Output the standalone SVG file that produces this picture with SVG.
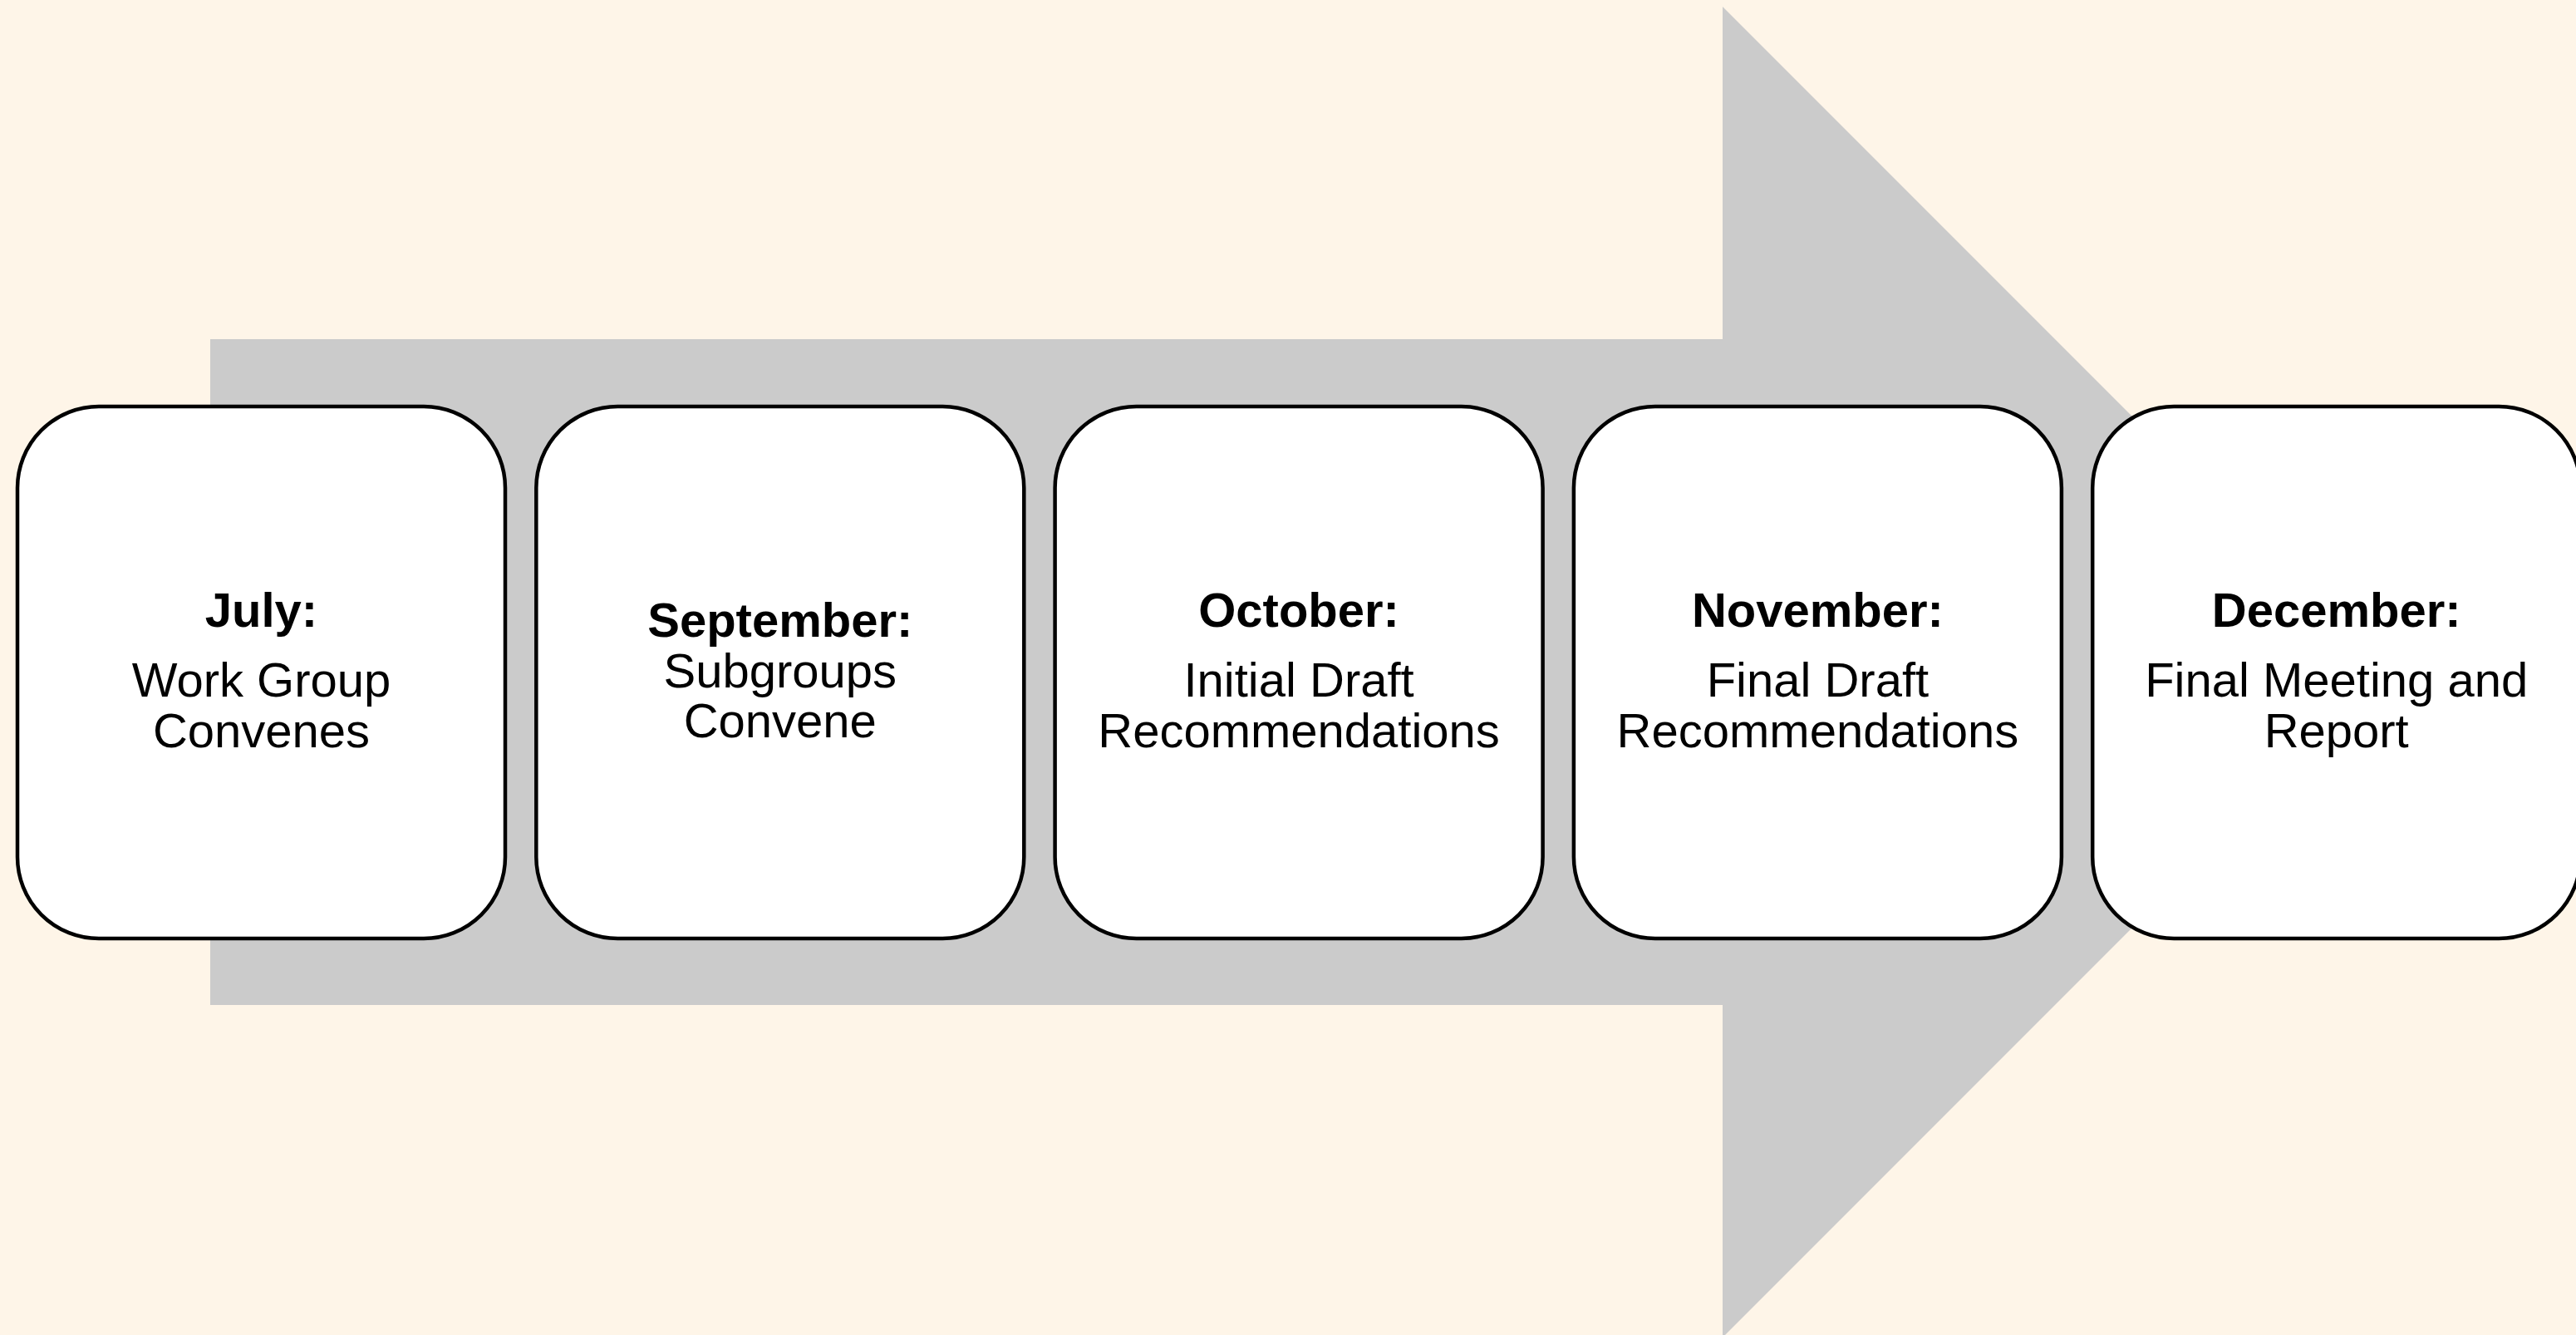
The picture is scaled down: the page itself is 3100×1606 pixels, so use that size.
<svg xmlns="http://www.w3.org/2000/svg" width="3100" height="1606" viewBox="0 0 3100 1606">
  <style>
    .bg { fill: #FEF5E8; }
    .arrow { fill: #CBCBCB; }
    .box { fill: #FFFFFF; stroke: #000000; stroke-width: 4.5; }
    .t { font-family: "Liberation Sans", Arial, sans-serif; font-size: 58px; fill: #000000; text-anchor: middle; }
    .b { font-weight: bold; }
  </style>
  <rect class="bg" x="0" y="0" width="3100" height="1606"/>
  <g id="connectors">
    <polygon class="arrow" points="253,408 2073,408 2073,8 2873.5,808.5 2073,1609 2073,1209 253,1209"/>
  </g>
  <g id="node-july">
    <rect class="box" x="21" y="489" width="587" height="640" rx="98" ry="98"/>
    <text class="t b" x="314.5" y="754">July:</text>
    <text class="t" x="314.5" y="838">Work Group</text>
    <text class="t" x="314.5" y="899">Convenes</text>
  </g>
  <g id="node-september">
    <rect class="box" x="645.3" y="489" width="587" height="640" rx="98" ry="98"/>
    <text class="t b" x="938.8" y="766">September:</text>
    <text class="t" x="938.8" y="827">Subgroups</text>
    <text class="t" x="938.8" y="887">Convene</text>
  </g>
  <g id="node-october">
    <rect class="box" x="1269.6" y="489" width="587" height="640" rx="98" ry="98"/>
    <text class="t b" x="1563.1" y="754">October:</text>
    <text class="t" x="1563.1" y="838">Initial Draft</text>
    <text class="t" x="1563.1" y="899">Recommendations</text>
  </g>
  <g id="node-november">
    <rect class="box" x="1893.9" y="489" width="587" height="640" rx="98" ry="98"/>
    <text class="t b" x="2187.4" y="754">November:</text>
    <text class="t" x="2187.4" y="838">Final Draft</text>
    <text class="t" x="2187.4" y="899">Recommendations</text>
  </g>
  <g id="node-december">
    <rect class="box" x="2518.2" y="489" width="587" height="640" rx="98" ry="98"/>
    <text class="t b" x="2811.7" y="754">December:</text>
    <text class="t" x="2811.7" y="838">Final Meeting and</text>
    <text class="t" x="2811.7" y="899">Report</text>
  </g>
</svg>
